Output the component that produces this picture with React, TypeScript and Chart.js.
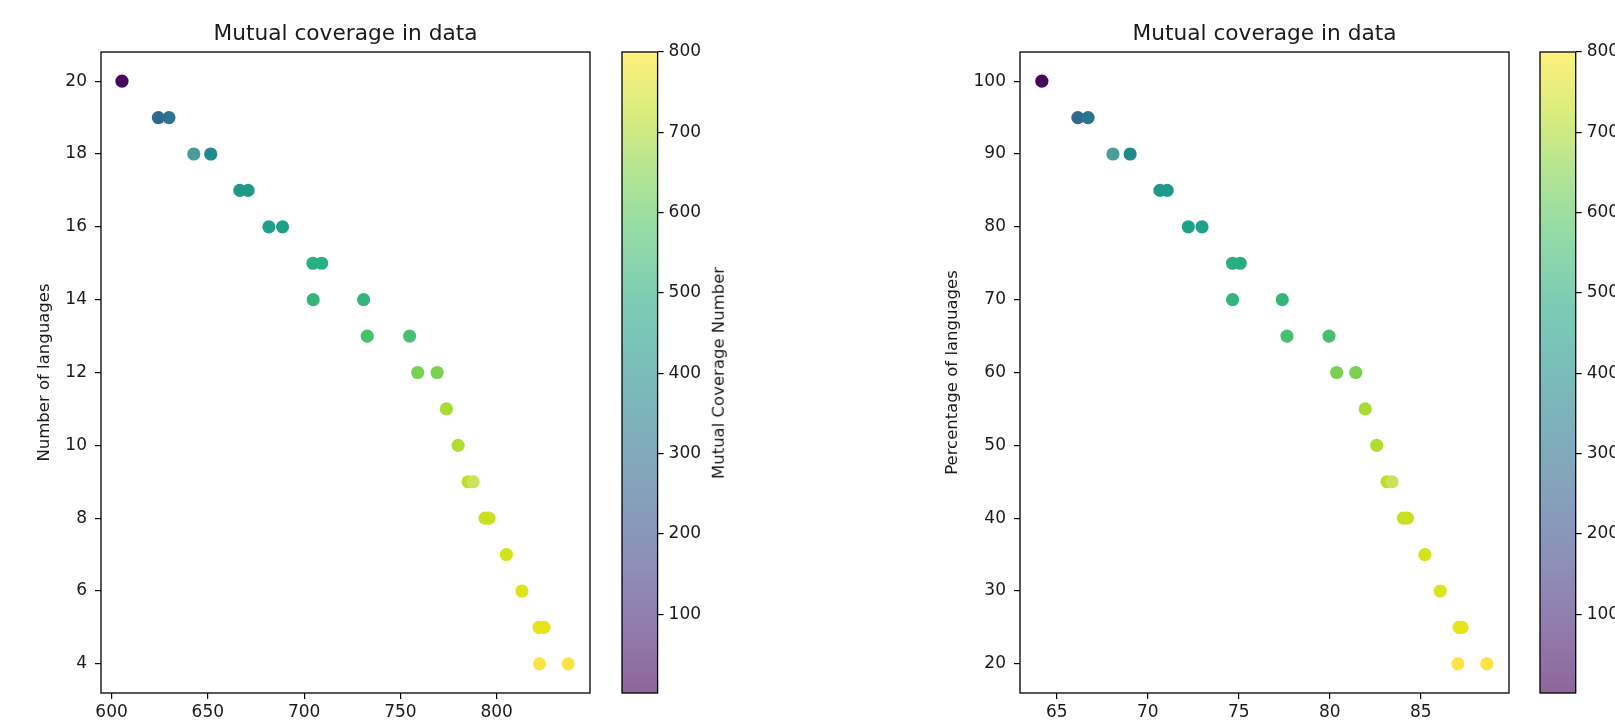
import React, { useEffect, useRef } from "react";
import { Chart, registerables } from "chart.js";

Chart.register(...registerables);

// ---- data ----
const COUNT_X = [605.4, 624.3, 629.8, 642.7, 651.5, 666.6, 670.9, 681.7, 688.8, 704.6, 709.1, 704.7, 730.9, 732.8, 754.8, 759.0, 769.1, 773.9, 780.0, 785.2, 787.8, 794.0, 796.0, 805.1, 813.1, 822.0, 824.6, 822.3, 837.2];
const COUNT_Y = [20, 19, 19, 18, 18, 17, 17, 16, 16, 15, 15, 14, 14, 13, 13, 12, 12, 11, 10, 9, 9, 8, 8, 7, 6, 5, 5, 4, 4];
const PCT_X = [64.18, 66.16, 66.72, 68.09, 69.03, 70.67, 71.07, 72.23, 72.98, 74.66, 75.08, 74.66, 77.39, 77.65, 79.96, 80.38, 81.43, 81.95, 82.58, 83.15, 83.42, 84.05, 84.27, 85.23, 86.07, 87.1, 87.27, 87.04, 88.63];
const PCT_Y = [100, 95, 95, 90, 90, 85, 85, 80, 80, 75, 75, 70, 70, 65, 65, 60, 60, 55, 50, 45, 45, 40, 40, 35, 30, 25, 25, 20, 20];

const COUNT_X_TICKS = [600, 650, 700, 750, 800];
const COUNT_Y_TICKS = [4, 6, 8, 10, 12, 14, 16, 18, 20];
const PCT_X_TICKS = [65, 70, 75, 80, 85];
const PCT_Y_TICKS = [20, 30, 40, 50, 60, 70, 80, 90, 100];
const COLORBAR_TICKS = [100, 200, 300, 400, 500, 600, 700, 800];
const COLORBAR_RANGE = [2, 800];

const TITLE = "Mutual coverage in data";
const COUNT_Y_LABEL = "Number of languages";
const PCT_Y_LABEL = "Percentage of languages";
const COLORBAR_LABEL = "Mutual Coverage Number";

// ---- styles ----
const POINT_COLORS = [
  "#46085c",
  "#31688e", "#2b748f",
  "#4b9b9c", "#21888c",
  "#1f9a8a", "#1f9a8a",
  "#1fa088", "#1fa088",
  "#29af7f", "#29af7f",
  "#34b679", "#34b679",
  "#46c06f", "#46c06f",
  "#7ad151", "#7ad151",
  "#a8db34",
  "#b0dd2f",
  "#bddf26", "#cbe25c",
  "#c8e020", "#c8e020",
  "#d2e21b",
  "#dde318",
  "#e7e419", "#e7e419",
  "#fde444", "#fde444",
];
const VIRIDIS = ["#440154", "#482475", "#414487", "#355f8d", "#2a788e", "#21918c", "#22a884", "#44bf70", "#7ad151", "#bddf26", "#fde725"];
const FONT = "'DejaVu Sans', 'Liberation Sans', sans-serif";
const TEXT = "#1a1a1a";

Chart.defaults.font.family = FONT;
Chart.defaults.color = TEXT;

function hexA(hex: string, a: number) {
  const n = parseInt(hex.slice(1), 16);
  return `rgba(${(n >> 16) & 255},${(n >> 8) & 255},${n & 255},${a})`;
}

const framePlugin = {
  id: "frame",
  afterDraw(chart: any) {
    const a = chart.chartArea;
    const ctx = chart.ctx;
    ctx.save();
    ctx.strokeStyle = "#000";
    ctx.lineWidth = 1.3;
    ctx.strokeRect(a.left, a.top, a.right - a.left, a.bottom - a.top);
    ctx.restore();
  },
};

function tickSetter(values: number[]) {
  return (s: any) => {
    s.ticks = values.map((v) => ({ value: v }));
  };
}

function scatterConfig(o: any) {
  return {
    type: "scatter",
    data: {
      datasets: [
        {
          data: o.xs.map((x: number, i: number) => ({ x, y: o.ys[i] })),
          backgroundColor: POINT_COLORS,
          pointRadius: 6.6,
          pointHoverRadius: 6.6,
          pointBorderWidth: 0,
        },
      ],
    },
    options: {
      animation: false,
      responsive: false,
      events: [],
      layout: { padding: { left: 0, right: o.padRight, top: 0, bottom: 0 } },
      plugins: {
        legend: { display: false },
        tooltip: { enabled: false },
        title: {
          display: true,
          fullSize: false,
          text: TITLE,
          color: TEXT,
          font: { size: 21.7, weight: "normal", family: FONT, lineHeight: 1.2 },
          padding: { top: 21.5, bottom: 4.5 },
        },
      },
      scales: {
        x: {
          type: "linear",
          min: o.xMin,
          max: o.xMax,
          afterBuildTicks: tickSetter(o.xTicks),
          afterFit: (s: any) => {
            s.height = 34;
          },
          grid: { drawOnChartArea: false, drawTicks: true, tickLength: 6, color: "#000", lineWidth: 1.2 },
          border: { display: false },
          ticks: { padding: 3, font: { size: 17 }, color: TEXT, maxRotation: 0, autoSkip: false },
        },
        y: {
          type: "linear",
          min: o.yMin,
          max: o.yMax,
          afterBuildTicks: tickSetter(o.yTicks),
          afterFit: (s: any) => {
            s.width = o.yWidth;
          },
          grid: { drawOnChartArea: false, drawTicks: true, tickLength: 6, color: "#000", lineWidth: 1.2 },
          border: { display: false },
          ticks: { padding: 8, font: { size: 17 }, color: TEXT, autoSkip: false },
          title: {
            display: true,
            text: o.yLabel,
            color: TEXT,
            font: { size: 16.5 },
            padding: { top: o.yTitlePad, bottom: 0 },
          },
        },
      },
    },
    plugins: [framePlugin],
  };
}

function colorbarConfig(axisWidth: number) {
  return {
    type: "bar",
    data: {
      labels: [""],
      datasets: [
        {
          data: [[COLORBAR_RANGE[0], COLORBAR_RANGE[1]]],
          backgroundColor: (ctx: any) => {
            const chart = ctx.chart;
            if (!chart.chartArea) return "#ccc";
            const ys = chart.scales.y;
            const g = chart.ctx.createLinearGradient(
              0,
              ys.getPixelForValue(COLORBAR_RANGE[0]),
              0,
              ys.getPixelForValue(COLORBAR_RANGE[1])
            );
            VIRIDIS.forEach((c, i) => g.addColorStop(i / (VIRIDIS.length - 1), hexA(c, 0.6)));
            return g;
          },
          borderWidth: 0,
          barPercentage: 1,
          categoryPercentage: 1,
        },
      ],
    },
    options: {
      animation: false,
      responsive: false,
      events: [],
      layout: { padding: { left: 12, top: 52, bottom: 34, right: 0 } },
      plugins: { legend: { display: false }, tooltip: { enabled: false }, title: { display: false } },
      scales: {
        x: { display: false },
        y: {
          position: "right",
          min: COLORBAR_RANGE[0],
          max: COLORBAR_RANGE[1],
          afterBuildTicks: tickSetter(COLORBAR_TICKS),
          afterFit: (s: any) => {
            s.width = axisWidth;
          },
          grid: { drawOnChartArea: false, drawTicks: true, tickLength: 6, color: "#000", lineWidth: 1.2 },
          border: { display: false },
          ticks: { padding: 5, font: { size: 17 }, color: TEXT, autoSkip: false },
        },
      },
    },
    plugins: [framePlugin],
  };
}

function ChartCanvas({ left, width, config }: { left: number; width: number; config: any }) {
  const ref = useRef<HTMLCanvasElement | null>(null);
  useEffect(() => {
    if (!ref.current) return;
    const chart = new Chart(ref.current, config);
    return () => chart.destroy();
  }, []);
  return (
    <canvas
      ref={ref}
      width={width}
      height={727}
      style={{ position: "absolute", left, top: 0, width, height: 727 }}
    />
  );
}

export default function App() {
  const leftCfg = scatterConfig({
    xs: COUNT_X, ys: COUNT_Y, xMin: 594.5, xMax: 848.5, yMin: 3.2, yMax: 20.8,
    xTicks: COUNT_X_TICKS, yTicks: COUNT_Y_TICKS, yLabel: COUNT_Y_LABEL,
    yWidth: 101, yTitlePad: 35, padRight: 10,
  });
  const rightCfg = scatterConfig({
    xs: PCT_X, ys: PCT_Y, xMin: 62.98, xMax: 89.85, yMin: 16, yMax: 104,
    xTicks: PCT_X_TICKS, yTicks: PCT_Y_TICKS, yLabel: PCT_Y_LABEL,
    yWidth: 120, yTitlePad: 43, padRight: 11,
  });
  return (
    <div style={{ position: "fixed", left: 0, top: 0, width: 1615, height: 727, overflow: "hidden", background: "#fff" }}>
      <ChartCanvas left={0} width={600} config={leftCfg} />
      <ChartCanvas left={610} width={150} config={colorbarConfig(102.4)} />
      <div
        style={{
          position: "absolute", left: 719, top: 373, transform: "translate(-50%, -50%) rotate(-90deg)",
          whiteSpace: "nowrap", fontFamily: FONT, fontSize: 16.5, lineHeight: 1, color: TEXT,
        }}
      >
        {COLORBAR_LABEL}
      </div>
      <ChartCanvas left={900} width={620} config={rightCfg} />
      <ChartCanvas left={1528} width={87} config={colorbarConfig(39.3)} />
    </div>
  );
}
